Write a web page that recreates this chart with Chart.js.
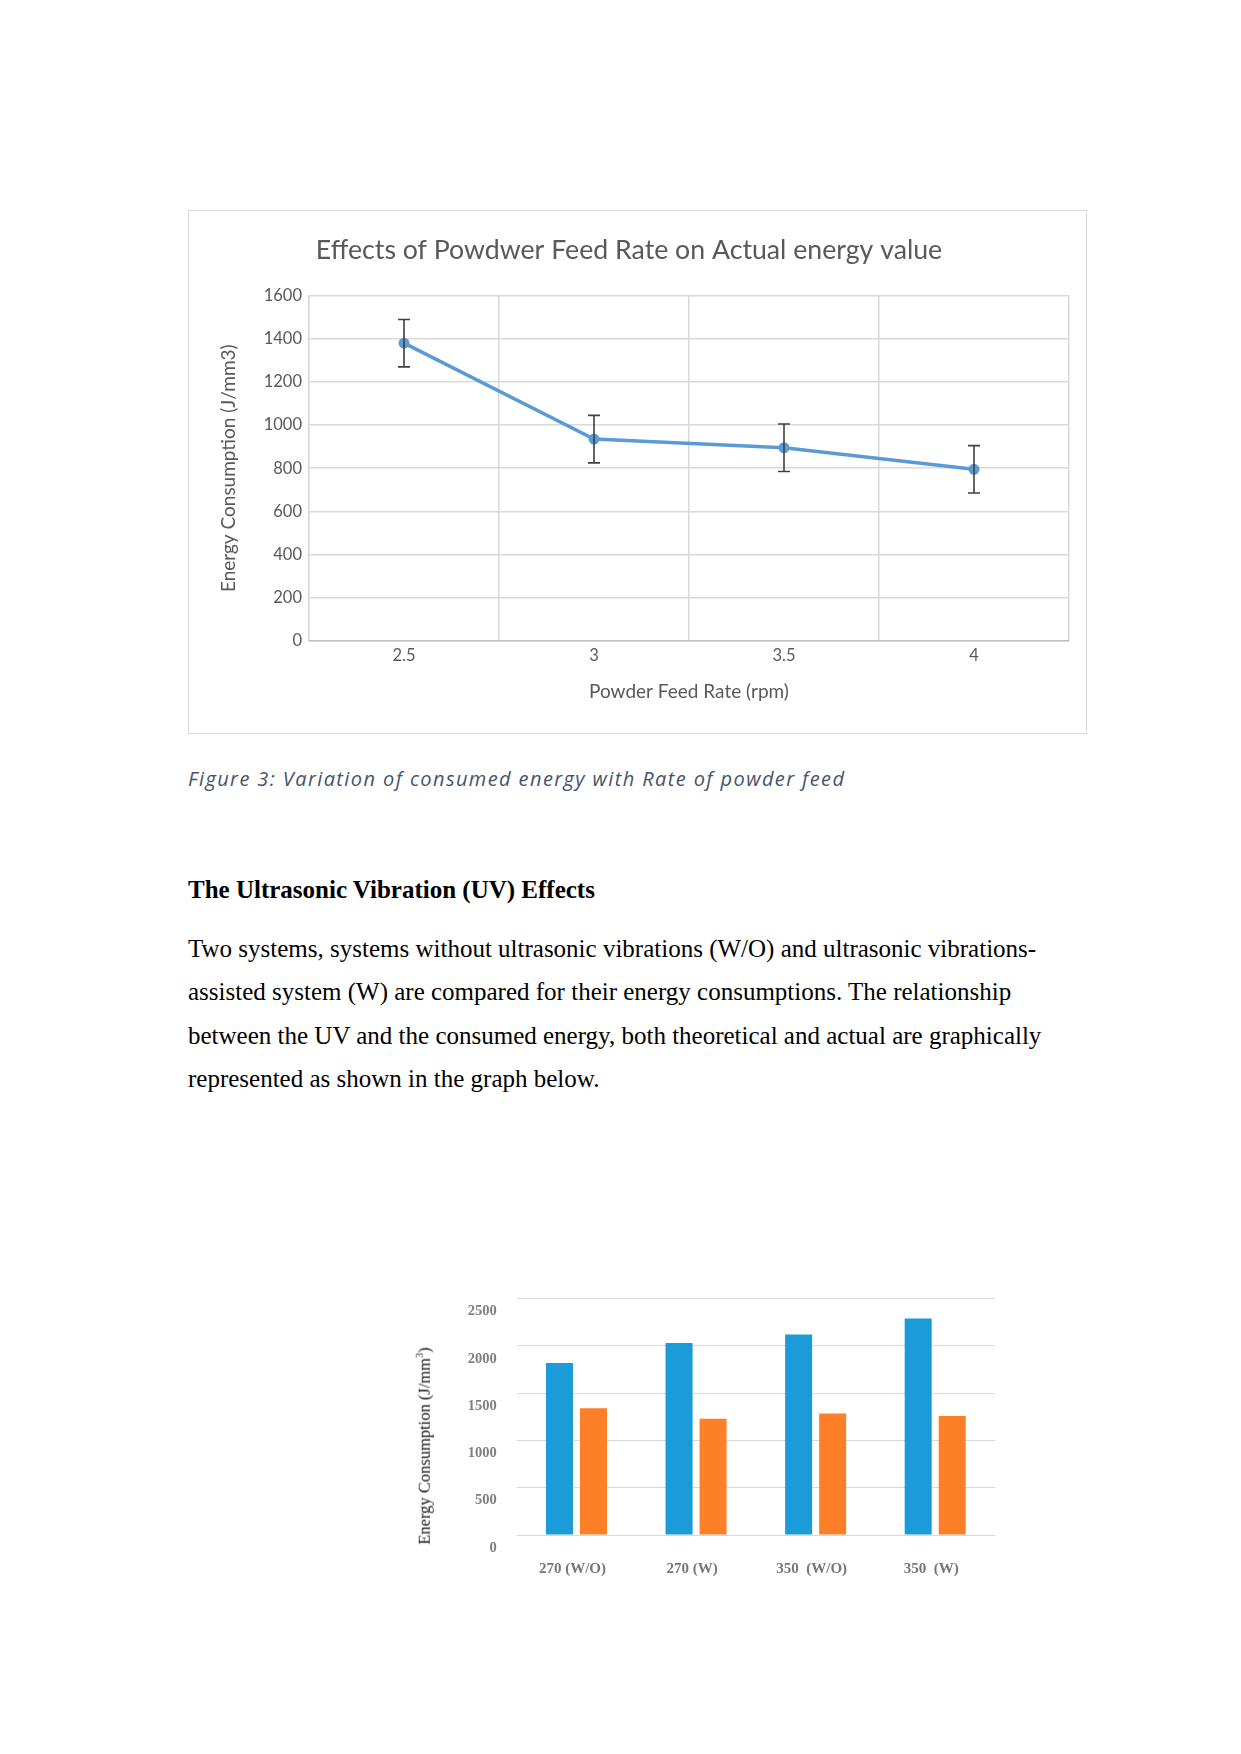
<!DOCTYPE html>
<html>
<head>
<meta charset="utf-8">
<script src="https://cdn.jsdelivr.net/npm/chart.js@4.4.1/dist/chart.umd.min.js"></script>
<style>
  body { margin: 0; background: #fff; }
  .page { position: relative; width: 1241px; height: 1754px; }
  .box1 { position: absolute; left: 188px; top: 210px; width: 899px; height: 524px;
          border: 1px solid #d9d9d9; box-sizing: border-box; }
  .box1 canvas { position: absolute; left: 0; top: 0; }
  .caption { position: absolute; left: 188px; top: 765px; font: italic 20px "Open Sans";
             letter-spacing: 1.4px; color: #44546a; white-space: nowrap; line-height: 28px; }
  .heading { position: absolute; left: 188px; top: 877px; font: bold 25px "Liberation Serif";
             color: #000; white-space: nowrap; line-height: 25px; }
  .body { position: absolute; left: 188px; top: 927px; font: 25px "Liberation Serif";
          color: #000; line-height: 43.33px; }
  .body div { white-space: nowrap; }
  #chart2 { position: absolute; left: 420px; top: 1270px; }
  .ytitle2 { position: absolute; left: 424px; top: 1446px; font: 16.5px "Liberation Serif";
             color: #111; white-space: nowrap; transform: translate(-50%, -50%) rotate(-90deg); }
  .ytitle2 sup { font-size: 10px; }
</style>
</head>
<body>
<div class="page">
  <div class="box1"><canvas id="chart1" width="897" height="522"></canvas></div>
  <div class="caption">Figure 3: Variation of consumed energy with Rate of powder feed</div>
  <div class="heading">The Ultrasonic Vibration (UV) Effects</div>
  <div class="body">
    <div>Two systems, systems without ultrasonic vibrations (W/O) and ultrasonic vibrations-</div>
    <div>assisted system (W) are compared for their energy consumptions. The relationship</div>
    <div>between the UV and the consumed energy, both theoretical and actual are graphically</div>
    <div>represented as shown in the graph below.</div>
  </div>
  <canvas id="chart2" width="600" height="320"></canvas>
  <div class="ytitle2">Energy Consumption (J/mm<sup>3</sup>)</div>
</div>

<script>
// chart 1: powder feed rate vs actual energy
const feedRates = ["2.5", "3", "3.5", "4"];
const actualEnergy = [1380, 935, 895, 795];
const energyError = [110, 110, 110, 110];

// chart 2: ultrasonic vibration comparison
const uvCategories = ["270 (W/O)", "270 (W)", "350  (W/O)", "350  (W)"];
const theoreticalEnergy = [1820, 2030, 2120, 2290];
const actualUvEnergy = [1340, 1230, 1285, 1260];

Chart.defaults.font.family = "Lato";
Chart.defaults.animation = false;

// draws the vertical error bars on top of the line
const errorBars = {
  id: "errorBars",
  afterDatasetsDraw(chart) {
    const { ctx } = chart;
    const y = chart.scales.y;
    const meta = chart.getDatasetMeta(0);
    ctx.save();
    ctx.strokeStyle = "#404040";
    ctx.lineWidth = 1.6;
    meta.data.forEach((pt, i) => {
      const top = y.getPixelForValue(actualEnergy[i] + energyError[i]);
      const bot = y.getPixelForValue(actualEnergy[i] - energyError[i]);
      ctx.beginPath();
      ctx.moveTo(pt.x, top); ctx.lineTo(pt.x, bot);
      ctx.moveTo(pt.x - 6, top); ctx.lineTo(pt.x + 6, top);
      ctx.moveTo(pt.x - 6, bot); ctx.lineTo(pt.x + 6, bot);
      ctx.stroke();
    });
    ctx.restore();
  },
};

new Chart(document.getElementById("chart1"), {
  type: "line",
  data: {
    labels: feedRates,
    datasets: [{
      data: actualEnergy,
      borderColor: "#5b9bd5",
      backgroundColor: "#5b9bd5",
      borderWidth: 3.5,
      pointRadius: 5.5,
      pointBorderWidth: 0,
      tension: 0,
    }],
  },
  options: {
    responsive: false,
    layout: { padding: { right: 17 } },
    plugins: {
      legend: { display: false },
      tooltip: { enabled: false },
      title: {
        display: true,
        text: "Effects of Powdwer Feed Rate on Actual energy value",
        color: "#595959",
        font: { size: 26.7, weight: "normal" },
        padding: { top: 23, bottom: 29.7 },
      },
    },
    scales: {
      x: {
        offset: true,
        afterFit: (s) => { s.height = 92.3; },
        grid: { offset: true, color: "#d9d9d9", lineWidth: 1.5, drawTicks: false },
        border: { color: "#bfbfbf", width: 1.5 },
        ticks: { color: "#595959", font: { size: 16.5 }, padding: 5 },
        title: {
          display: true,
          text: "Powder Feed Rate (rpm)",
          color: "#595959",
          font: { size: 19 },
          padding: { top: 0, bottom: 30 },
        },
      },
      y: {
        min: 0,
        max: 1600,
        afterFit: (s) => { s.width = 120; },
        grid: { color: "#d9d9d9", lineWidth: 1.5, drawTicks: false },
        border: { color: "#d9d9d9", width: 1.5 },
        ticks: { stepSize: 200, color: "#595959", font: { size: 16.5 }, padding: 7, callback: (v) => v },
        title: {
          display: true,
          text: "Energy Consumption (J/mm3)",
          color: "#595959",
          font: { size: 19 },
          padding: { top: 28.6, bottom: 0 },
        },
      },
    },
  },
  plugins: [errorBars],
});

new Chart(document.getElementById("chart2"), {
  type: "bar",
  data: {
    labels: uvCategories,
    datasets: [
      { data: theoreticalEnergy, backgroundColor: "#1b9bd7", categoryPercentage: 0.569, barPercentage: 0.794 },
      { data: actualUvEnergy, backgroundColor: "#fd7f28", categoryPercentage: 0.569, barPercentage: 0.794 },
    ],
  },
  options: {
    responsive: false,
    layout: { padding: { top: 0, right: 25 } },
    plugins: { legend: { display: false }, tooltip: { enabled: false } },
    scales: {
      x: {
        afterFit: (s) => { s.height = 55; },
        grid: { display: false, drawTicks: false },
        border: { display: false },
        ticks: {
          color: "#767676",
          font: { family: "Liberation Serif", size: 15, weight: "bold" },
          padding: 25,
          labelOffset: -4,
          maxRotation: 0,
          autoSkip: false,
        },
      },
      y: {
        min: 0,
        max: 2500,
        afterFit: (s) => { s.width = 96.7; },
        grid: { color: "#d9d9d9", lineWidth: 1, drawTicks: false },
        border: { display: false },
        ticks: {
          stepSize: 500,
          callback: (v) => v,
          color: "#7f7f7f",
          font: { family: "Liberation Serif", size: 14.5, weight: "bold" },
          padding: 20,
          labelOffset: 13,
        },
      },
    },
  },
});
</script>
</body>
</html>
